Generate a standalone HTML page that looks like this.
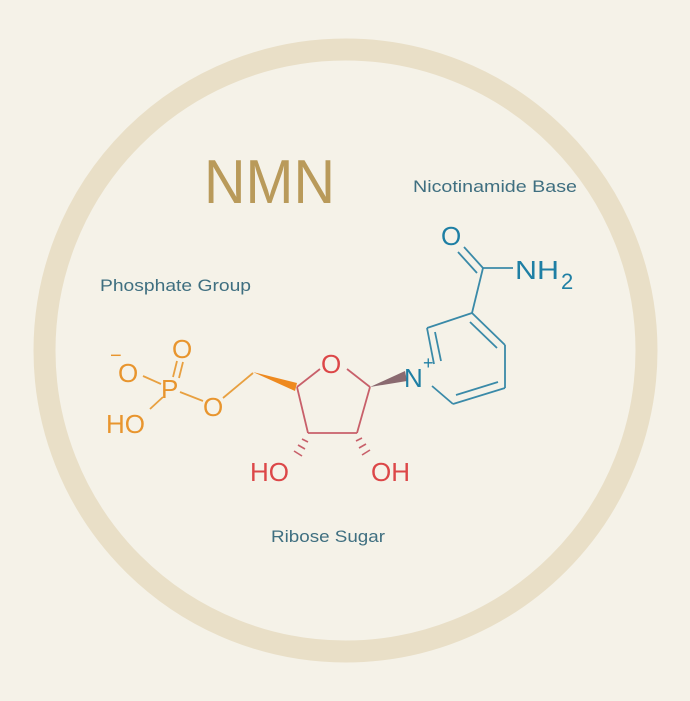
<!DOCTYPE html>
<html><head><meta charset="utf-8"><style>
html,body{margin:0;padding:0;background:#f5f2e8;}
svg{display:block}
text{font-family:"Liberation Sans",sans-serif;}
.a{font-size:26px;fill:#e8952e}
.r{font-size:26px;fill:#dc4748}
.b{font-size:26px;fill:#1e7fa4}
.l{font-size:17px;fill:#3f6f80}
</style></head><body>
<svg width="690" height="701" viewBox="0 0 690 701" xmlns="http://www.w3.org/2000/svg">
<rect width="690" height="701" fill="#f5f2e8"/>
<circle cx="345.5" cy="350.5" r="301" fill="none" stroke="#e9dfc7" stroke-width="22"/>
<text x="204" y="203" style="font-size:62px;fill:#b99a5a" textLength="131" lengthAdjust="spacingAndGlyphs">NMN</text>
<text class="l" x="413" y="192" textLength="164" lengthAdjust="spacingAndGlyphs">Nicotinamide Base</text>
<text class="l" x="100" y="291" textLength="151" lengthAdjust="spacingAndGlyphs">Phosphate Group</text>
<text class="l" x="271" y="542" textLength="114" lengthAdjust="spacingAndGlyphs">Ribose Sugar</text>

<g stroke="#e8a040" stroke-width="1.8" fill="none">
<line x1="143" y1="376" x2="161" y2="384"/>
<line x1="180" y1="392" x2="203" y2="401"/>
<line x1="163" y1="397" x2="150" y2="409"/>
<line x1="173" y1="377" x2="177" y2="361"/>
<line x1="179" y1="378" x2="183" y2="362"/>
<line x1="223" y1="398" x2="253" y2="373"/>
</g>
<text class="a" x="118" y="382">O</text>
<text class="a" x="110" y="362" style="font-size:20px">−</text>
<text class="a" x="161" y="398">P</text>
<text class="a" x="172" y="358">O</text>
<text class="a" x="203" y="416">O</text>
<text class="a" x="106" y="433">HO</text>
<polygon points="253,372 297,383 295,391" fill="#ee8a20"/>
<g stroke="#c8606a" stroke-width="1.8" fill="none">
<line x1="297" y1="387" x2="320" y2="369"/>
<line x1="347" y1="369" x2="370" y2="387"/>
<line x1="297" y1="387" x2="308" y2="433"/>
<line x1="370" y1="387" x2="357" y2="433"/>
<line x1="308" y1="433" x2="357" y2="433"/>
<g stroke-width="1.6">
<line x1="302" y1="439" x2="308" y2="442"/>
<line x1="298" y1="445" x2="305" y2="449"/>
<line x1="294" y1="451" x2="302" y2="456"/>
<line x1="362" y1="438" x2="356" y2="441"/>
<line x1="366" y1="444" x2="359" y2="448"/>
<line x1="370" y1="450" x2="362" y2="455"/>
</g>
</g>
<text class="r" x="321" y="373">O</text>
<text class="r" x="250" y="481">HO</text>
<text class="r" x="371" y="481">OH</text>
<polygon points="370,387 405,371 407,381" fill="#8a6a70"/>
<g stroke="#3a8aa8" stroke-width="1.8" fill="none">
<line x1="434" y1="364" x2="427" y2="328"/>
<line x1="441" y1="361" x2="435" y2="332"/>
<line x1="427" y1="328" x2="472" y2="313"/>
<line x1="472" y1="313" x2="505" y2="345"/>
<line x1="470" y1="322" x2="497" y2="348"/>
<line x1="505" y1="345" x2="505" y2="388"/>
<line x1="505" y1="388" x2="453" y2="404"/>
<line x1="498" y1="382" x2="456" y2="395"/>
<line x1="453" y1="404" x2="432" y2="386"/>
<line x1="472" y1="313" x2="483" y2="268"/>
<line x1="483" y1="268" x2="513" y2="268"/>
<line x1="483" y1="268" x2="464" y2="247"/>
<line x1="477" y1="273" x2="458" y2="252"/>
</g>
<text class="b" x="404" y="387">N</text>
<text class="b" x="423" y="369" style="font-size:18px">+</text>
<text class="b" x="441" y="245">O</text>
<text class="b" x="515" y="279" textLength="44" lengthAdjust="spacingAndGlyphs">NH</text>
<text class="b" x="561" y="289" style="font-size:22px">2</text>
</svg>
</body></html>
